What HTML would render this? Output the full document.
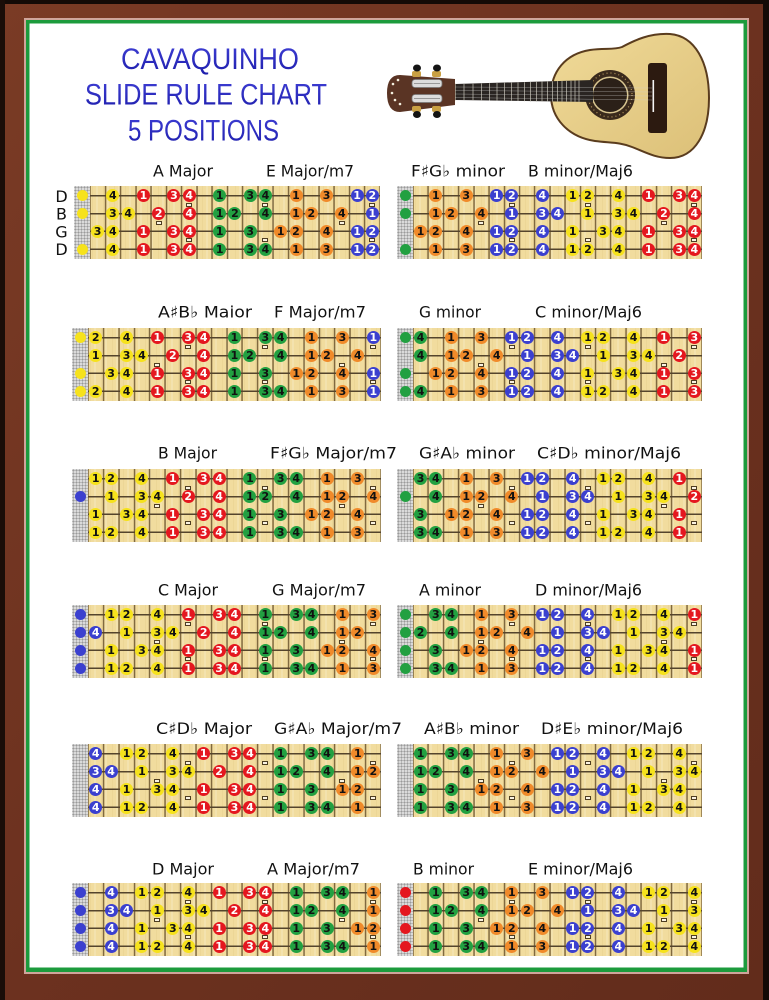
<!DOCTYPE html>
<html><head><meta charset="utf-8">
<style>
html,body{margin:0;padding:0}
body{width:769px;height:1000px;position:relative;overflow:hidden;background:#6d321f}
svg.bg{position:absolute;left:0;top:0}
.bd{position:absolute;height:73px;background:
 repeating-linear-gradient(180deg,transparent 0 9px,#54442c 9px 10.6px,transparent 10.6px 17.8px),
 repeating-linear-gradient(90deg,#80693f 0 1.5px,transparent 1.5px var(--p)) 15.3px 0,
 repeating-linear-gradient(90deg,rgba(255,255,255,.16) 0 2px,transparent 2px 7px,rgba(190,150,70,.09) 7px 8px,transparent 8px 11px),
 #f1dc9e;}
.bd::before{content:"";position:absolute;left:0;top:0;width:16px;height:100%;background:radial-gradient(circle,#9a9a9a 0 .7px,transparent 1px) 0 0/3px 3px,radial-gradient(circle,#e8e8e8 0 .7px,transparent 1px) 1.5px 1.5px/3px 3px,#c6c6c6}
.bd i{position:absolute;box-sizing:border-box;width:13px;height:13px;border-radius:50%;left:calc(16px + var(--p)*var(--f) - var(--p)/2 - 6.5px);top:calc(var(--s)*17.8px + 3.3px);font:bold 11px/13px "DejaVu Sans",sans-serif;text-align:center;font-style:normal;color:#111}
.bd i.n{left:2.5px;width:11px;height:11px;top:calc(var(--s)*17.8px + 4.3px)}
.bd .y{background:#f6e21c}
.bd .r{background:#e4171f;color:#fff}
.bd .g{background:#22a041}
.bd .o{background:#f08a2a}
.bd .b{background:#3b40cf;color:#fff}
.bd u{position:absolute;width:4px;height:2px;border:1px solid #4d3d22;background:#faf3e2;left:calc(16px + var(--p)*var(--f) - var(--p)/2 - 3px);top:calc(var(--m)*17.8px + 16.7px)}
.L{left:72px;width:309px;--p:15.42px}
.R{left:397px;width:305px;--p:15.21px}
</style></head>
<body>
<svg class="bg" width="769" height="1000" viewBox="0 0 769 1000">
<defs>
<linearGradient id="wood" x1="0" y1="0" x2="1" y2="1">
<stop offset="0" stop-color="#7a3b25"/><stop offset=".5" stop-color="#6c311f"/><stop offset="1" stop-color="#622c1b"/>
</linearGradient>
<linearGradient id="tt" x1="0" y1="0" x2="0" y2="1">
<stop offset="0" stop-color="#4040d6"/><stop offset="1" stop-color="#1c1caa"/>
</linearGradient>
<linearGradient id="bodyg" x1="0" y1="0" x2="1" y2="1">
<stop offset="0" stop-color="#f0da98"/><stop offset="1" stop-color="#dcc078"/>
</linearGradient>
</defs>
<rect width="769" height="1000" fill="url(#wood)"/>
<rect x="0" y="0" width="769" height="4" fill="#140a06"/>
<rect x="0" y="0" width="5" height="1000" fill="#1a0d08"/>
<rect x="763" y="0" width="6" height="1000" fill="#140a06"/>
<rect x="24" y="18" width="725" height="956" fill="#cfa59b"/>
<rect x="26" y="20" width="721" height="952" fill="#1c9b3c"/>
<rect x="29.5" y="23.5" width="714" height="944" fill="#ffffff"/>

<g font-family="Liberation Sans, sans-serif" font-size="30" fill="url(#tt)">
<text x="121" y="69" textLength="178" lengthAdjust="spacingAndGlyphs">CAVAQUINHO</text>
<text x="85" y="104.5" textLength="242" lengthAdjust="spacingAndGlyphs">SLIDE RULE CHART</text>
<text x="128" y="140.5" textLength="151" lengthAdjust="spacingAndGlyphs">5 POSITIONS</text>
</g>

<!-- guitar -->
<g>
<path d="M551,95 C551,72 565,54 590,50 C605,48 614,50 622,47 C635,40 650,33 670,34 C695,36 709,62 709,98 C709,133 695,158 670,158 C655,158 645,152 632,147 C620,142 610,143 595,141 C568,137 551,118 551,95 Z" fill="url(#bodyg)" stroke="#5a3c1e" stroke-width="2"/>
<circle cx="610" cy="95" r="25" fill="#3a2a1c"/>
<circle cx="610" cy="95" r="22" fill="none" stroke="#b89a60" stroke-width="1.2" stroke-dasharray="1 3"/>
<circle cx="610" cy="95" r="18.5" fill="#d8c590"/>
<circle cx="610" cy="95" r="17" fill="#2b2018"/>
<rect x="648" y="63" width="19" height="70" rx="3" fill="#2c1a10"/>
<rect x="652.5" y="80" width="1.6" height="32" fill="#f4f4f4"/>
<path d="M455,84 L593,80 L593,102 L455,100 Z" fill="#2a2522"/>
<path d="M464,84V100M473,83.8V100.2M481.5,83.5V100.3M489.5,83.3V100.5M497,83V100.6M504.5,82.8V100.7M511.5,82.6V100.8M518,82.4V101M524.5,82.2V101.1M530.5,82V101.2M536.5,81.8V101.3M542,81.6V101.4M547.5,81.4V101.5M552.5,81.3V101.6M557.5,81.1V101.7M562,81V101.8M566.5,80.8V101.8M571,80.7V101.9M575,80.5V102M579,80.4V102" stroke="#9a968c" stroke-width="1"/>
<g stroke="#cfcfcf" stroke-width=".5" opacity=".6"><path d="M455,87L652,88M455,90.5L652,92M455,94L652,96M455,97.5L652,100"/></g>
<rect x="452.5" y="83" width="3" height="18" fill="#e8e0c8"/>
<path d="M455,79 L400,75 Q387,75 387,93 Q387,112 400,112 L455,105 Z" fill="#5a3424"/>
<rect x="412" y="79.5" width="30" height="8" rx="3" fill="#dcdcdc" stroke="#777" stroke-width=".8"/>
<rect x="412" y="94.5" width="30" height="8" rx="3" fill="#dcdcdc" stroke="#777" stroke-width=".8"/>
<path d="M414,83.5H440M414,98.5H440" stroke="#999" stroke-width="1"/>
<g fill="#f4f0e0"><circle cx="393" cy="84" r="1.3"/><circle cx="398" cy="80" r="1.3"/><circle cx="392" cy="93" r="1.3"/><circle cx="395" cy="100" r="1.3"/><circle cx="400" cy="104" r="1.3"/></g>
<g fill="#c9a043"><rect x="412" y="71" width="9" height="6" rx="2"/><rect x="432" y="71" width="9" height="6" rx="2"/><rect x="412" y="106" width="9" height="6" rx="2"/><rect x="432" y="106" width="9" height="6" rx="2"/></g>
<g fill="#141414"><ellipse cx="417" cy="68" rx="4" ry="3.5"/><ellipse cx="437" cy="68" rx="4" ry="3.5"/><ellipse cx="417" cy="114.5" rx="4" ry="3.5"/><ellipse cx="437" cy="114.5" rx="4" ry="3.5"/></g>
</g>

<g font-family="DejaVu Sans, sans-serif" font-size="16" fill="#111" text-anchor="middle">
<text x="61.5" y="201.8">D</text>
<text x="61.5" y="219.5">B</text>
<text x="61.5" y="237.5">G</text>
<text x="61.5" y="255.1">D</text>
</g>

<g font-family="DejaVu Sans, sans-serif" font-size="16" fill="#111">
<text x="153" y="176.5" textLength="60" lengthAdjust="spacingAndGlyphs">A Major</text>
<text x="266" y="176.5" textLength="88" lengthAdjust="spacingAndGlyphs">E Major/m7</text>
<text x="411" y="176.5" textLength="94" lengthAdjust="spacingAndGlyphs">F♯G♭  minor</text>
<text x="528" y="176.5" textLength="105" lengthAdjust="spacingAndGlyphs">B minor/Maj6</text>

<text x="158" y="317.5" textLength="94" lengthAdjust="spacingAndGlyphs">A♯B♭  Maior</text>
<text x="274" y="317.5" textLength="92" lengthAdjust="spacingAndGlyphs">F Major/m7</text>
<text x="419" y="317.5" textLength="62" lengthAdjust="spacingAndGlyphs">G minor</text>
<text x="535" y="317.5" textLength="107" lengthAdjust="spacingAndGlyphs">C minor/Maj6</text>

<text x="158" y="458.5" textLength="59" lengthAdjust="spacingAndGlyphs">B Major</text>
<text x="270" y="458.5" textLength="127" lengthAdjust="spacingAndGlyphs">F♯G♭  Major/m7</text>
<text x="419" y="458.5" textLength="96" lengthAdjust="spacingAndGlyphs">G♯A♭  minor</text>
<text x="537" y="458.5" textLength="144" lengthAdjust="spacingAndGlyphs">C♯D♭  minor/Maj6</text>

<text x="158" y="595.5" textLength="60" lengthAdjust="spacingAndGlyphs">C Major</text>
<text x="272" y="595.5" textLength="94" lengthAdjust="spacingAndGlyphs">G Major/m7</text>
<text x="419" y="595.5" textLength="62" lengthAdjust="spacingAndGlyphs">A minor</text>
<text x="535" y="595.5" textLength="107" lengthAdjust="spacingAndGlyphs">D minor/Maj6</text>

<text x="156" y="734" textLength="96" lengthAdjust="spacingAndGlyphs">C♯D♭  Major</text>
<text x="274" y="734" textLength="128" lengthAdjust="spacingAndGlyphs">G♯A♭  Major/m7</text>
<text x="424" y="734" textLength="95" lengthAdjust="spacingAndGlyphs">A♯B♭  minor</text>
<text x="541" y="734" textLength="142" lengthAdjust="spacingAndGlyphs">D♯E♭  minor/Maj6</text>

<text x="152" y="874.5" textLength="62" lengthAdjust="spacingAndGlyphs">D Major</text>
<text x="267" y="874.5" textLength="93" lengthAdjust="spacingAndGlyphs">A Major/m7</text>
<text x="413" y="874.5" textLength="61" lengthAdjust="spacingAndGlyphs">B minor</text>
<text x="528" y="874.5" textLength="105" lengthAdjust="spacingAndGlyphs">E minor/Maj6</text>
</g>
</svg>

<!-- ROW 1 LEFT: A Major -->
<div class="bd" style="left:74px;top:186px;width:306px;--p:15.26px">
<u style="--f:5;--m:1"></u><u style="--f:7;--m:0"></u><u style="--f:7;--m:2"></u><u style="--f:12;--m:0"></u><u style="--f:12;--m:2"></u><u style="--f:17;--m:1"></u><u style="--f:19;--m:0"></u><u style="--f:19;--m:2"></u>
<div style="--s:0"><i class="y n"></i><i class="y" style="--f:2">4</i><i class="r" style="--f:4">1</i><i class="r" style="--f:6">3</i><i class="r" style="--f:7">4</i><i class="g" style="--f:9">1</i><i class="g" style="--f:11">3</i><i class="g" style="--f:12">4</i><i class="o" style="--f:14">1</i><i class="o" style="--f:16">3</i><i class="b" style="--f:18">1</i><i class="b" style="--f:19">2</i></div>
<div style="--s:1"><i class="y n"></i><i class="y" style="--f:2">3</i><i class="y" style="--f:3">4</i><i class="r" style="--f:5">2</i><i class="r" style="--f:7">4</i><i class="g" style="--f:9">1</i><i class="g" style="--f:10">2</i><i class="g" style="--f:12">4</i><i class="o" style="--f:14">1</i><i class="o" style="--f:15">2</i><i class="o" style="--f:17">4</i><i class="b" style="--f:19">1</i></div>
<div style="--s:2"><i class="y" style="--f:1">3</i><i class="y" style="--f:2">4</i><i class="r" style="--f:4">1</i><i class="r" style="--f:6">3</i><i class="r" style="--f:7">4</i><i class="g" style="--f:9">1</i><i class="g" style="--f:11">3</i><i class="o" style="--f:13">1</i><i class="o" style="--f:14">2</i><i class="o" style="--f:16">4</i><i class="b" style="--f:18">1</i><i class="b" style="--f:19">2</i></div>
<div style="--s:3"><i class="y n"></i><i class="y" style="--f:2">4</i><i class="r" style="--f:4">1</i><i class="r" style="--f:6">3</i><i class="r" style="--f:7">4</i><i class="g" style="--f:9">1</i><i class="g" style="--f:11">3</i><i class="g" style="--f:12">4</i><i class="o" style="--f:14">1</i><i class="o" style="--f:16">3</i><i class="b" style="--f:18">1</i><i class="b" style="--f:19">2</i></div>
</div>

<!-- ROW 1 RIGHT: F#Gb minor -->
<div class="bd R" style="top:186px">
<u style="--f:5;--m:1"></u><u style="--f:7;--m:0"></u><u style="--f:7;--m:2"></u><u style="--f:12;--m:0"></u><u style="--f:12;--m:2"></u><u style="--f:17;--m:1"></u><u style="--f:19;--m:0"></u><u style="--f:19;--m:2"></u>
<div style="--s:0"><i class="g n"></i><i class="o" style="--f:2">1</i><i class="o" style="--f:4">3</i><i class="b" style="--f:6">1</i><i class="b" style="--f:7">2</i><i class="b" style="--f:9">4</i><i class="y" style="--f:11">1</i><i class="y" style="--f:12">2</i><i class="y" style="--f:14">4</i><i class="r" style="--f:16">1</i><i class="r" style="--f:18">3</i><i class="r" style="--f:19">4</i></div>
<div style="--s:1"><i class="g n"></i><i class="o" style="--f:2">1</i><i class="o" style="--f:3">2</i><i class="o" style="--f:5">4</i><i class="b" style="--f:7">1</i><i class="b" style="--f:9">3</i><i class="b" style="--f:10">4</i><i class="y" style="--f:12">1</i><i class="y" style="--f:14">3</i><i class="y" style="--f:15">4</i><i class="r" style="--f:17">2</i><i class="r" style="--f:19">4</i></div>
<div style="--s:2"><i class="o" style="--f:1">1</i><i class="o" style="--f:2">2</i><i class="o" style="--f:4">4</i><i class="b" style="--f:6">1</i><i class="b" style="--f:7">2</i><i class="b" style="--f:9">4</i><i class="y" style="--f:11">1</i><i class="y" style="--f:13">3</i><i class="y" style="--f:14">4</i><i class="r" style="--f:16">1</i><i class="r" style="--f:18">3</i><i class="r" style="--f:19">4</i></div>
<div style="--s:3"><i class="g n"></i><i class="o" style="--f:2">1</i><i class="o" style="--f:4">3</i><i class="b" style="--f:6">1</i><i class="b" style="--f:7">2</i><i class="b" style="--f:9">4</i><i class="y" style="--f:11">1</i><i class="y" style="--f:12">2</i><i class="y" style="--f:14">4</i><i class="r" style="--f:16">1</i><i class="r" style="--f:18">3</i><i class="r" style="--f:19">4</i></div>
</div>

<!-- ROW 2 LEFT: A#Bb Major -->
<div class="bd L" style="top:328px">
<u style="--f:5;--m:1"></u><u style="--f:7;--m:0"></u><u style="--f:7;--m:2"></u><u style="--f:12;--m:0"></u><u style="--f:12;--m:2"></u><u style="--f:17;--m:1"></u><u style="--f:19;--m:0"></u><u style="--f:19;--m:2"></u>
<div style="--s:0"><i class="y n"></i><i class="y" style="--f:1">2</i><i class="y" style="--f:3">4</i><i class="r" style="--f:5">1</i><i class="r" style="--f:7">3</i><i class="r" style="--f:8">4</i><i class="g" style="--f:10">1</i><i class="g" style="--f:12">3</i><i class="g" style="--f:13">4</i><i class="o" style="--f:15">1</i><i class="o" style="--f:17">3</i><i class="b" style="--f:19">1</i></div>
<div style="--s:1"><i class="y" style="--f:1">1</i><i class="y" style="--f:3">3</i><i class="y" style="--f:4">4</i><i class="r" style="--f:6">2</i><i class="r" style="--f:8">4</i><i class="g" style="--f:10">1</i><i class="g" style="--f:11">2</i><i class="g" style="--f:13">4</i><i class="o" style="--f:15">1</i><i class="o" style="--f:16">2</i><i class="o" style="--f:18">4</i></div>
<div style="--s:2"><i class="y n"></i><i class="y" style="--f:2">3</i><i class="y" style="--f:3">4</i><i class="r" style="--f:5">1</i><i class="r" style="--f:7">3</i><i class="r" style="--f:8">4</i><i class="g" style="--f:10">1</i><i class="g" style="--f:12">3</i><i class="o" style="--f:14">1</i><i class="o" style="--f:15">2</i><i class="o" style="--f:17">4</i><i class="b" style="--f:19">1</i></div>
<div style="--s:3"><i class="y n"></i><i class="y" style="--f:1">2</i><i class="y" style="--f:3">4</i><i class="r" style="--f:5">1</i><i class="r" style="--f:7">3</i><i class="r" style="--f:8">4</i><i class="g" style="--f:10">1</i><i class="g" style="--f:12">3</i><i class="g" style="--f:13">4</i><i class="o" style="--f:15">1</i><i class="o" style="--f:17">3</i><i class="b" style="--f:19">1</i></div>
</div>

<!-- ROW 2 RIGHT: G minor -->
<div class="bd R" style="top:328px">
<u style="--f:5;--m:1"></u><u style="--f:7;--m:0"></u><u style="--f:7;--m:2"></u><u style="--f:12;--m:0"></u><u style="--f:12;--m:2"></u><u style="--f:17;--m:1"></u><u style="--f:19;--m:0"></u><u style="--f:19;--m:2"></u>
<div style="--s:0"><i class="g n"></i><i class="g" style="--f:1">4</i><i class="o" style="--f:3">1</i><i class="o" style="--f:5">3</i><i class="b" style="--f:7">1</i><i class="b" style="--f:8">2</i><i class="b" style="--f:10">4</i><i class="y" style="--f:12">1</i><i class="y" style="--f:13">2</i><i class="y" style="--f:15">4</i><i class="r" style="--f:17">1</i><i class="r" style="--f:19">3</i></div>
<div style="--s:1"><i class="g" style="--f:1">4</i><i class="o" style="--f:3">1</i><i class="o" style="--f:4">2</i><i class="o" style="--f:6">4</i><i class="b" style="--f:8">1</i><i class="b" style="--f:10">3</i><i class="b" style="--f:11">4</i><i class="y" style="--f:13">1</i><i class="y" style="--f:15">3</i><i class="y" style="--f:16">4</i><i class="r" style="--f:18">2</i></div>
<div style="--s:2"><i class="g n"></i><i class="o" style="--f:2">1</i><i class="o" style="--f:3">2</i><i class="o" style="--f:5">4</i><i class="b" style="--f:7">1</i><i class="b" style="--f:8">2</i><i class="b" style="--f:10">4</i><i class="y" style="--f:12">1</i><i class="y" style="--f:14">3</i><i class="y" style="--f:15">4</i><i class="r" style="--f:17">1</i><i class="r" style="--f:19">3</i></div>
<div style="--s:3"><i class="g n"></i><i class="g" style="--f:1">4</i><i class="o" style="--f:3">1</i><i class="o" style="--f:5">3</i><i class="b" style="--f:7">1</i><i class="b" style="--f:8">2</i><i class="b" style="--f:10">4</i><i class="y" style="--f:12">1</i><i class="y" style="--f:13">2</i><i class="y" style="--f:15">4</i><i class="r" style="--f:17">1</i><i class="r" style="--f:19">3</i></div>
</div>

<!-- ROW 3 LEFT: B Major -->
<div class="bd L" style="top:469px">
<u style="--f:5;--m:1"></u><u style="--f:7;--m:0"></u><u style="--f:7;--m:2"></u><u style="--f:12;--m:0"></u><u style="--f:12;--m:2"></u><u style="--f:17;--m:1"></u><u style="--f:19;--m:0"></u><u style="--f:19;--m:2"></u>
<div style="--s:0"><i class="y" style="--f:1">1</i><i class="y" style="--f:2">2</i><i class="y" style="--f:4">4</i><i class="r" style="--f:6">1</i><i class="r" style="--f:8">3</i><i class="r" style="--f:9">4</i><i class="g" style="--f:11">1</i><i class="g" style="--f:13">3</i><i class="g" style="--f:14">4</i><i class="o" style="--f:16">1</i><i class="o" style="--f:18">3</i></div>
<div style="--s:1"><i class="b n"></i><i class="y" style="--f:2">1</i><i class="y" style="--f:4">3</i><i class="y" style="--f:5">4</i><i class="r" style="--f:7">2</i><i class="r" style="--f:9">4</i><i class="g" style="--f:11">1</i><i class="g" style="--f:12">2</i><i class="g" style="--f:14">4</i><i class="o" style="--f:16">1</i><i class="o" style="--f:17">2</i><i class="o" style="--f:19">4</i></div>
<div style="--s:2"><i class="y" style="--f:1">1</i><i class="y" style="--f:3">3</i><i class="y" style="--f:4">4</i><i class="r" style="--f:6">1</i><i class="r" style="--f:8">3</i><i class="r" style="--f:9">4</i><i class="g" style="--f:11">1</i><i class="g" style="--f:13">3</i><i class="o" style="--f:15">1</i><i class="o" style="--f:16">2</i><i class="o" style="--f:18">4</i></div>
<div style="--s:3"><i class="y" style="--f:1">1</i><i class="y" style="--f:2">2</i><i class="y" style="--f:4">4</i><i class="r" style="--f:6">1</i><i class="r" style="--f:8">3</i><i class="r" style="--f:9">4</i><i class="g" style="--f:11">1</i><i class="g" style="--f:13">3</i><i class="g" style="--f:14">4</i><i class="o" style="--f:16">1</i><i class="o" style="--f:18">3</i></div>
</div>

<!-- ROW 3 RIGHT: G#Ab minor -->
<div class="bd R" style="top:469px">
<u style="--f:5;--m:1"></u><u style="--f:7;--m:0"></u><u style="--f:7;--m:2"></u><u style="--f:12;--m:0"></u><u style="--f:12;--m:2"></u><u style="--f:17;--m:1"></u><u style="--f:19;--m:0"></u><u style="--f:19;--m:2"></u>
<div style="--s:0"><i class="g" style="--f:1">3</i><i class="g" style="--f:2">4</i><i class="o" style="--f:4">1</i><i class="o" style="--f:6">3</i><i class="b" style="--f:8">1</i><i class="b" style="--f:9">2</i><i class="b" style="--f:11">4</i><i class="y" style="--f:13">1</i><i class="y" style="--f:14">2</i><i class="y" style="--f:16">4</i><i class="r" style="--f:18">1</i></div>
<div style="--s:1"><i class="g n"></i><i class="g" style="--f:2">4</i><i class="o" style="--f:4">1</i><i class="o" style="--f:5">2</i><i class="o" style="--f:7">4</i><i class="b" style="--f:9">1</i><i class="b" style="--f:11">3</i><i class="b" style="--f:12">4</i><i class="y" style="--f:14">1</i><i class="y" style="--f:16">3</i><i class="y" style="--f:17">4</i><i class="r" style="--f:19">2</i></div>
<div style="--s:2"><i class="g" style="--f:1">3</i><i class="o" style="--f:3">1</i><i class="o" style="--f:4">2</i><i class="o" style="--f:6">4</i><i class="b" style="--f:8">1</i><i class="b" style="--f:9">2</i><i class="b" style="--f:11">4</i><i class="y" style="--f:13">1</i><i class="y" style="--f:15">3</i><i class="y" style="--f:16">4</i><i class="r" style="--f:18">1</i></div>
<div style="--s:3"><i class="g" style="--f:1">3</i><i class="g" style="--f:2">4</i><i class="o" style="--f:4">1</i><i class="o" style="--f:6">3</i><i class="b" style="--f:8">1</i><i class="b" style="--f:9">2</i><i class="b" style="--f:11">4</i><i class="y" style="--f:13">1</i><i class="y" style="--f:14">2</i><i class="y" style="--f:16">4</i><i class="r" style="--f:18">1</i></div>
</div>

<!-- ROW 4 LEFT: C Major -->
<div class="bd L" style="top:605px">
<u style="--f:5;--m:1"></u><u style="--f:7;--m:0"></u><u style="--f:7;--m:2"></u><u style="--f:12;--m:0"></u><u style="--f:12;--m:2"></u><u style="--f:17;--m:1"></u><u style="--f:19;--m:0"></u><u style="--f:19;--m:2"></u>
<div style="--s:0"><i class="b n"></i><i class="y" style="--f:2">1</i><i class="y" style="--f:3">2</i><i class="y" style="--f:5">4</i><i class="r" style="--f:7">1</i><i class="r" style="--f:9">3</i><i class="r" style="--f:10">4</i><i class="g" style="--f:12">1</i><i class="g" style="--f:14">3</i><i class="g" style="--f:15">4</i><i class="o" style="--f:17">1</i><i class="o" style="--f:19">3</i></div>
<div style="--s:1"><i class="b n"></i><i class="b" style="--f:1">4</i><i class="y" style="--f:3">1</i><i class="y" style="--f:5">3</i><i class="y" style="--f:6">4</i><i class="r" style="--f:8">2</i><i class="r" style="--f:10">4</i><i class="g" style="--f:12">1</i><i class="g" style="--f:13">2</i><i class="g" style="--f:15">4</i><i class="o" style="--f:17">1</i><i class="o" style="--f:18">2</i></div>
<div style="--s:2"><i class="b n"></i><i class="y" style="--f:2">1</i><i class="y" style="--f:4">3</i><i class="y" style="--f:5">4</i><i class="r" style="--f:7">1</i><i class="r" style="--f:9">3</i><i class="r" style="--f:10">4</i><i class="g" style="--f:12">1</i><i class="g" style="--f:14">3</i><i class="o" style="--f:16">1</i><i class="o" style="--f:17">2</i><i class="o" style="--f:19">4</i></div>
<div style="--s:3"><i class="b n"></i><i class="y" style="--f:2">1</i><i class="y" style="--f:3">2</i><i class="y" style="--f:5">4</i><i class="r" style="--f:7">1</i><i class="r" style="--f:9">3</i><i class="r" style="--f:10">4</i><i class="g" style="--f:12">1</i><i class="g" style="--f:14">3</i><i class="g" style="--f:15">4</i><i class="o" style="--f:17">1</i><i class="o" style="--f:19">3</i></div>
</div>

<!-- ROW 4 RIGHT: A minor -->
<div class="bd R" style="top:605px">
<u style="--f:5;--m:1"></u><u style="--f:7;--m:0"></u><u style="--f:7;--m:2"></u><u style="--f:12;--m:0"></u><u style="--f:12;--m:2"></u><u style="--f:17;--m:1"></u><u style="--f:19;--m:0"></u><u style="--f:19;--m:2"></u>
<div style="--s:0"><i class="g n"></i><i class="g" style="--f:2">3</i><i class="g" style="--f:3">4</i><i class="o" style="--f:5">1</i><i class="o" style="--f:7">3</i><i class="b" style="--f:9">1</i><i class="b" style="--f:10">2</i><i class="b" style="--f:12">4</i><i class="y" style="--f:14">1</i><i class="y" style="--f:15">2</i><i class="y" style="--f:17">4</i><i class="r" style="--f:19">1</i></div>
<div style="--s:1"><i class="g n"></i><i class="g" style="--f:1">2</i><i class="g" style="--f:3">4</i><i class="o" style="--f:5">1</i><i class="o" style="--f:6">2</i><i class="o" style="--f:8">4</i><i class="b" style="--f:10">1</i><i class="b" style="--f:12">3</i><i class="b" style="--f:13">4</i><i class="y" style="--f:15">1</i><i class="y" style="--f:17">3</i><i class="y" style="--f:18">4</i></div>
<div style="--s:2"><i class="g n"></i><i class="g" style="--f:2">3</i><i class="o" style="--f:4">1</i><i class="o" style="--f:5">2</i><i class="o" style="--f:7">4</i><i class="b" style="--f:9">1</i><i class="b" style="--f:10">2</i><i class="b" style="--f:12">4</i><i class="y" style="--f:14">1</i><i class="y" style="--f:16">3</i><i class="y" style="--f:17">4</i><i class="r" style="--f:19">1</i></div>
<div style="--s:3"><i class="g n"></i><i class="g" style="--f:2">3</i><i class="g" style="--f:3">4</i><i class="o" style="--f:5">1</i><i class="o" style="--f:7">3</i><i class="b" style="--f:9">1</i><i class="b" style="--f:10">2</i><i class="b" style="--f:12">4</i><i class="y" style="--f:14">1</i><i class="y" style="--f:15">2</i><i class="y" style="--f:17">4</i><i class="r" style="--f:19">1</i></div>
</div>

<!-- ROW 5 LEFT: C#Db Major -->
<div class="bd L" style="top:744px">
<u style="--f:5;--m:1"></u><u style="--f:7;--m:0"></u><u style="--f:7;--m:2"></u><u style="--f:12;--m:0"></u><u style="--f:12;--m:2"></u><u style="--f:17;--m:1"></u><u style="--f:19;--m:0"></u><u style="--f:19;--m:2"></u>
<div style="--s:0"><i class="b" style="--f:1">4</i><i class="y" style="--f:3">1</i><i class="y" style="--f:4">2</i><i class="y" style="--f:6">4</i><i class="r" style="--f:8">1</i><i class="r" style="--f:10">3</i><i class="r" style="--f:11">4</i><i class="g" style="--f:13">1</i><i class="g" style="--f:15">3</i><i class="g" style="--f:16">4</i><i class="o" style="--f:18">1</i></div>
<div style="--s:1"><i class="b" style="--f:1">3</i><i class="b" style="--f:2">4</i><i class="y" style="--f:4">1</i><i class="y" style="--f:6">3</i><i class="y" style="--f:7">4</i><i class="r" style="--f:9">2</i><i class="r" style="--f:11">4</i><i class="g" style="--f:13">1</i><i class="g" style="--f:14">2</i><i class="g" style="--f:16">4</i><i class="o" style="--f:18">1</i><i class="o" style="--f:19">2</i></div>
<div style="--s:2"><i class="b" style="--f:1">4</i><i class="y" style="--f:3">1</i><i class="y" style="--f:5">3</i><i class="y" style="--f:6">4</i><i class="r" style="--f:8">1</i><i class="r" style="--f:10">3</i><i class="r" style="--f:11">4</i><i class="g" style="--f:13">1</i><i class="g" style="--f:15">3</i><i class="o" style="--f:17">1</i><i class="o" style="--f:18">2</i></div>
<div style="--s:3"><i class="b" style="--f:1">4</i><i class="y" style="--f:3">1</i><i class="y" style="--f:4">2</i><i class="y" style="--f:6">4</i><i class="r" style="--f:8">1</i><i class="r" style="--f:10">3</i><i class="r" style="--f:11">4</i><i class="g" style="--f:13">1</i><i class="g" style="--f:15">3</i><i class="g" style="--f:16">4</i><i class="o" style="--f:18">1</i></div>
</div>

<!-- ROW 5 RIGHT: A#Bb minor -->
<div class="bd R" style="top:744px">
<u style="--f:5;--m:1"></u><u style="--f:7;--m:0"></u><u style="--f:7;--m:2"></u><u style="--f:12;--m:0"></u><u style="--f:12;--m:2"></u><u style="--f:17;--m:1"></u><u style="--f:19;--m:0"></u><u style="--f:19;--m:2"></u>
<div style="--s:0"><i class="g" style="--f:1">1</i><i class="g" style="--f:3">3</i><i class="g" style="--f:4">4</i><i class="o" style="--f:6">1</i><i class="o" style="--f:8">3</i><i class="b" style="--f:10">1</i><i class="b" style="--f:11">2</i><i class="b" style="--f:13">4</i><i class="y" style="--f:15">1</i><i class="y" style="--f:16">2</i><i class="y" style="--f:18">4</i></div>
<div style="--s:1"><i class="g" style="--f:1">1</i><i class="g" style="--f:2">2</i><i class="g" style="--f:4">4</i><i class="o" style="--f:6">1</i><i class="o" style="--f:7">2</i><i class="o" style="--f:9">4</i><i class="b" style="--f:11">1</i><i class="b" style="--f:13">3</i><i class="b" style="--f:14">4</i><i class="y" style="--f:16">1</i><i class="y" style="--f:18">3</i><i class="y" style="--f:19">4</i></div>
<div style="--s:2"><i class="g" style="--f:1">1</i><i class="g" style="--f:3">3</i><i class="o" style="--f:5">1</i><i class="o" style="--f:6">2</i><i class="o" style="--f:8">4</i><i class="b" style="--f:10">1</i><i class="b" style="--f:11">2</i><i class="b" style="--f:13">4</i><i class="y" style="--f:15">1</i><i class="y" style="--f:17">3</i><i class="y" style="--f:18">4</i></div>
<div style="--s:3"><i class="g" style="--f:1">1</i><i class="g" style="--f:3">3</i><i class="g" style="--f:4">4</i><i class="o" style="--f:6">1</i><i class="o" style="--f:8">3</i><i class="b" style="--f:10">1</i><i class="b" style="--f:11">2</i><i class="b" style="--f:13">4</i><i class="y" style="--f:15">1</i><i class="y" style="--f:16">2</i><i class="y" style="--f:18">4</i></div>
</div>

<!-- ROW 6 LEFT: D Major -->
<div class="bd L" style="top:883px">
<u style="--f:5;--m:1"></u><u style="--f:7;--m:0"></u><u style="--f:7;--m:2"></u><u style="--f:12;--m:0"></u><u style="--f:12;--m:2"></u><u style="--f:17;--m:1"></u><u style="--f:19;--m:0"></u><u style="--f:19;--m:2"></u>
<div style="--s:0"><i class="b n"></i><i class="b" style="--f:2">4</i><i class="y" style="--f:4">1</i><i class="y" style="--f:5">2</i><i class="y" style="--f:7">4</i><i class="r" style="--f:9">1</i><i class="r" style="--f:11">3</i><i class="r" style="--f:12">4</i><i class="g" style="--f:14">1</i><i class="g" style="--f:16">3</i><i class="g" style="--f:17">4</i><i class="o" style="--f:19">1</i></div>
<div style="--s:1"><i class="b n"></i><i class="b" style="--f:2">3</i><i class="b" style="--f:3">4</i><i class="y" style="--f:5">1</i><i class="y" style="--f:7">3</i><i class="y" style="--f:8">4</i><i class="r" style="--f:10">2</i><i class="r" style="--f:12">4</i><i class="g" style="--f:14">1</i><i class="g" style="--f:15">2</i><i class="g" style="--f:17">4</i><i class="o" style="--f:19">1</i></div>
<div style="--s:2"><i class="b n"></i><i class="b" style="--f:2">4</i><i class="y" style="--f:4">1</i><i class="y" style="--f:6">3</i><i class="y" style="--f:7">4</i><i class="r" style="--f:9">1</i><i class="r" style="--f:11">3</i><i class="r" style="--f:12">4</i><i class="g" style="--f:14">1</i><i class="g" style="--f:16">3</i><i class="o" style="--f:18">1</i><i class="o" style="--f:19">2</i></div>
<div style="--s:3"><i class="b n"></i><i class="b" style="--f:2">4</i><i class="y" style="--f:4">1</i><i class="y" style="--f:5">2</i><i class="y" style="--f:7">4</i><i class="r" style="--f:9">1</i><i class="r" style="--f:11">3</i><i class="r" style="--f:12">4</i><i class="g" style="--f:14">1</i><i class="g" style="--f:16">3</i><i class="g" style="--f:17">4</i><i class="o" style="--f:19">1</i></div>
</div>

<!-- ROW 6 RIGHT: B minor -->
<div class="bd R" style="top:883px">
<u style="--f:5;--m:1"></u><u style="--f:7;--m:0"></u><u style="--f:7;--m:2"></u><u style="--f:12;--m:0"></u><u style="--f:12;--m:2"></u><u style="--f:17;--m:1"></u><u style="--f:19;--m:0"></u><u style="--f:19;--m:2"></u>
<div style="--s:0"><i class="r n"></i><i class="g" style="--f:2">1</i><i class="g" style="--f:4">3</i><i class="g" style="--f:5">4</i><i class="o" style="--f:7">1</i><i class="o" style="--f:9">3</i><i class="b" style="--f:11">1</i><i class="b" style="--f:12">2</i><i class="b" style="--f:14">4</i><i class="y" style="--f:16">1</i><i class="y" style="--f:17">2</i><i class="y" style="--f:19">4</i></div>
<div style="--s:1"><i class="r n"></i><i class="g" style="--f:2">1</i><i class="g" style="--f:3">2</i><i class="g" style="--f:5">4</i><i class="o" style="--f:7">1</i><i class="o" style="--f:8">2</i><i class="o" style="--f:10">4</i><i class="b" style="--f:12">1</i><i class="b" style="--f:14">3</i><i class="b" style="--f:15">4</i><i class="y" style="--f:17">1</i><i class="y" style="--f:19">3</i></div>
<div style="--s:2"><i class="r n"></i><i class="g" style="--f:2">1</i><i class="g" style="--f:4">3</i><i class="o" style="--f:6">1</i><i class="o" style="--f:7">2</i><i class="o" style="--f:9">4</i><i class="b" style="--f:11">1</i><i class="b" style="--f:12">2</i><i class="b" style="--f:14">4</i><i class="y" style="--f:16">1</i><i class="y" style="--f:18">3</i><i class="y" style="--f:19">4</i></div>
<div style="--s:3"><i class="r n"></i><i class="g" style="--f:2">1</i><i class="g" style="--f:4">3</i><i class="g" style="--f:5">4</i><i class="o" style="--f:7">1</i><i class="o" style="--f:9">3</i><i class="b" style="--f:11">1</i><i class="b" style="--f:12">2</i><i class="b" style="--f:14">4</i><i class="y" style="--f:16">1</i><i class="y" style="--f:17">2</i><i class="y" style="--f:19">4</i></div>
</div>

</body></html>
